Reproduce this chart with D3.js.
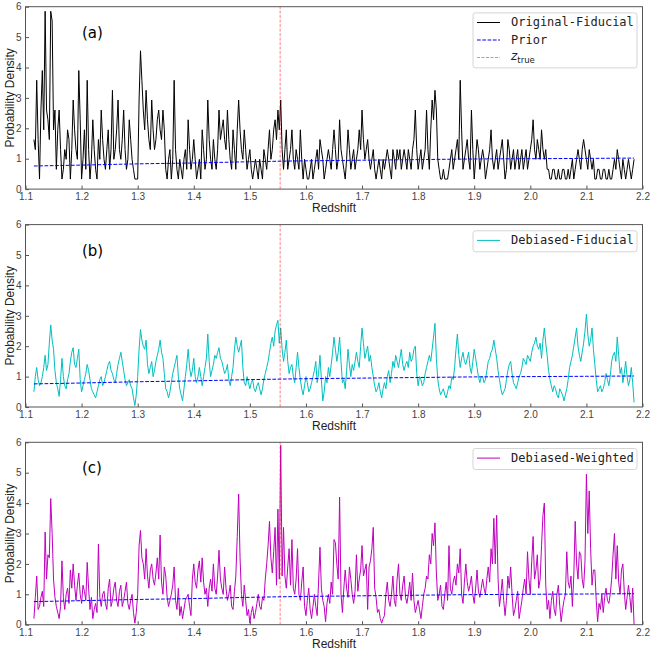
<!DOCTYPE html>
<html>
<head>
<meta charset="utf-8">
<script src="https://cdn.jsdelivr.net/npm/d3@7"></script>
<style>
body { margin: 0; background: #fff; }
</style>
</head>
<body>
<script>
// redshift sampling of the three p(z) curves
const zStart = 1.115, zStep = 0.0025;

const originalFiducial = [
  1.63,1.3, 3.58,1.63, 0.33,2.6, 3.9,1.95, 5.85,2.6, 2.28,1.63, 5.85,5.53, 1.95,2.6, 0.65,1.95, 2.6,1.3,
  0.33,0.65, 1.3,0.98, 1.95,1.63, 0.33,1.3, 2.93,1.95, 1.3,0.98, 3.9,2.28, 0.33,0.98, 1.95,0.65, 3.58,1.3,
  0.33,0.98, 2.28,1.3, 0.65,0.33, 1.63,0.98, 2.6,1.63, 0.98,0.65, 1.3,1.95, 0.65,1.3, 3.25,0.98, 1.3,1.95,
  2.93,1.3, 0.98,1.63, 2.6,1.3, 0.65,0.98, 2.28,1.63, 0.98,0.65, 0.33,0.33, 0.33,2.93, 4.55,3.58, 2.6,1.95,
  3.25,2.28, 1.63,1.3, 2.93,1.95, 1.3,1.63, 2.28,2.6, 1.95,1.63, 2.6,1.95, 0.65,0.33, 0.98,1.3, 0.33,0.98,
  3.58,1.3, 0.65,0.33, 0.98,0.65, 0.33,0.98, 1.3,0.65, 2.28,1.3, 0.65,0.98, 1.63,0.98, 0.33,0.65, 0.98,0.33,
  1.95,1.3, 0.65,0.98, 2.93,1.63, 0.98,0.65, 1.63,0.98, 0.65,1.3, 2.6,1.63, 1.95,2.28, 1.63,1.3, 2.6,1.63,
  0.98,0.65, 1.95,1.3, 0.65,1.95, 2.93,1.95, 1.3,0.98, 1.95,1.3, 0.65,0.98, 1.3,0.65, 0.33,0.65, 0.98,0.65,
  0.33,0.98, 0.65,0.33, 1.3,0.98, 0.65,1.3, 1.95,0.98, 1.3,1.95, 2.28,1.63, 2.6,1.95, 2.93,1.3, 0.65,1.3,
  1.95,0.65, 0.98,1.3, 1.95,0.98, 0.65,1.3, 0.98,0.65, 1.95,0.98, 0.33,0.98, 0.65,0.33, 0.33,0.65, 0.98,0.33,
  0.65,0.98, 1.3,0.65, 1.63,1.3, 0.98,0.33, 0.65,0.98, 1.3,0.98, 0.65,1.3, 1.95,1.3, 0.65,0.98, 2.28,1.3,
  0.98,0.65, 0.33,0.98, 1.95,1.3, 0.65,0.98, 1.3,0.65, 0.98,1.3, 1.95,1.3, 2.6,1.63, 0.98,1.3, 1.63,0.98,
  0.65,0.98, 1.3,0.65, 0.33,0.65, 0.98,0.65, 0.33,0.98, 0.65,0.98, 1.3,0.98, 0.65,0.33, 1.3,0.98, 0.65,1.3,
  0.98,1.3, 0.65,0.98, 1.3,0.98, 0.65,1.3, 0.98,0.65, 1.3,1.63, 2.6,1.3, 0.65,0.98, 1.3,0.65, 0.98,1.3,
  2.6,1.3, 0.65,1.95, 2.93,2.28, 3.25,2.6, 0.98,0.65, 0.33,0.33, 0.65,0.33, 0.33,0.33, 0.65,0.98, 1.3,0.65,
  0.98,1.3, 1.63,0.98, 3.58,1.95, 0.65,0.98, 1.3,1.63, 0.98,0.65, 2.6,1.3, 0.33,0.98, 1.63,1.3, 0.65,0.98,
  1.3,0.98, 0.33,0.65, 0.98,1.3, 1.95,0.98, 0.65,0.98, 1.3,0.65, 0.98,1.3, 1.63,0.98, 0.33,0.65, 1.63,1.3,
  0.65,0.98, 1.3,0.65, 0.98,1.3, 0.65,0.98, 1.3,0.65, 0.98,1.3, 0.65,0.98, 1.3,1.63, 2.28,1.3, 0.98,1.63,
  1.3,0.98, 1.95,1.3, 0.98,1.3, 0.65,0.65, 0.33,0.33, 0.65,0.65, 0.33,0.33, 0.65,0.33, 0.33,0.65, 0.65,0.33,
  0.33,0.65, 0.33,0.65, 0.98,0.33, 0.65,0.98, 1.3,0.98, 0.65,1.3, 1.63,1.3, 0.98,0.65, 1.3,0.98, 0.65,0.98,
  0.33,0.33, 0.65,0.65, 0.33,0.33, 0.65,0.65, 0.33,0.33, 0.65,0.33, 0.33,0.65, 0.98,0.65, 1.3,0.98, 0.65,0.33,
  0.98,0.65, 0.33,0.65, 0.98,0.65, 0.33,0.65, 0.98
];

const debiasedFiducial = [
  0.5,1.0, 1.3,0.9, 0.7,0.8, 1.0,1.3, 1.7,1.2, 1.4,2.1, 2.7,2.2, 1.9,1.2, 0.8,0.6, 0.35,0.9,
  1.6,1.0, 0.7,0.6, 0.9,1.1, 1.5,1.8, 1.95,1.4, 1.3,1.6, 1.9,0.9, 0.5,0.7, 0.9,1.1, 1.4,1.2,
  0.9,0.6, 0.5,0.4, 0.3,0.5, 0.7,0.9, 1.0,0.7, 0.8,1.0, 1.2,1.4, 1.5,1.2, 1.1,0.9, 0.8,1.1,
  1.4,1.6, 1.8,1.5, 1.2,0.9, 0.7,0.8, 0.9,0.7, 0.6,0.3, 0.05,0.4, 1.0,1.9, 2.55,2.2, 2.0,1.9,
  2.2,1.4, 1.1,1.3, 1.5,1.0, 1.2,1.5, 1.7,1.9, 2.2,1.8, 1.6,1.1, 0.6,0.5, 0.3,0.5, 0.8,1.1,
  1.3,1.5, 1.7,1.0, 0.6,0.4, 0.2,0.6, 1.0,1.4, 1.9,1.3, 1.0,1.2, 1.6,1.0, 0.8,1.0, 1.3,1.0,
  0.7,1.0, 1.3,1.6, 2.4,1.5, 1.0,1.2, 1.4,1.7, 1.6,1.8, 1.95,1.6, 1.5,1.3, 1.1,1.2, 1.4,0.9,
  0.7,1.0, 1.3,1.9, 2.3,2.0, 1.8,2.0, 2.2,1.3, 0.8,0.7, 1.0,0.8, 0.6,0.8, 0.9,0.6, 0.5,0.7,
  0.8,0.6, 0.4,0.6, 0.9,1.1, 1.3,1.5, 1.8,2.1, 2.3,2.0, 2.5,2.7, 2.85,2.1, 2.6,1.9, 1.5,1.8,
  2.2,1.5, 1.1,1.3, 1.4,1.0, 0.8,1.3, 1.8,1.3, 0.9,0.6, 0.4,0.7, 1.0,0.8, 0.5,0.6, 0.8,1.0,
  1.2,1.5, 0.8,1.1, 1.7,0.9, 0.2,0.5, 1.0,0.8, 1.3,1.0, 1.4,1.8, 2.3,1.9, 1.5,1.8, 2.3,1.5,
  0.8,0.9, 0.6,1.2, 1.9,1.4, 1.0,1.4, 1.2,1.5, 1.8,1.5, 1.3,2.0, 2.6,2.1, 1.6,1.8, 2.0,1.5,
  1.7,1.3, 1.0,0.7, 0.5,0.6, 0.8,0.5, 0.3,0.6, 0.8,0.6, 1.0,1.2, 0.8,1.1, 1.5,1.3, 1.7,1.5,
  1.3,1.6, 1.9,1.4, 1.2,1.4, 1.5,1.3, 1.8,1.5, 1.6,1.9, 2.0,1.1, 0.7,1.0, 0.9,0.7, 0.8,1.1,
  1.3,1.5, 1.7,1.5, 1.9,2.3, 2.75,1.6, 0.9,0.6, 0.4,0.5, 0.6,0.4, 0.3,0.5, 0.7,0.6, 1.0,0.9,
  1.3,1.9, 2.4,1.7, 1.3,1.6, 1.8,1.5, 1.4,1.6, 1.8,1.3, 1.1,1.5, 1.9,1.6, 1.3,1.0, 0.8,1.0,
  1.0,0.8, 0.9,1.2, 1.5,1.6, 1.8,1.9, 2.2,1.9, 1.6,1.2, 0.9,0.6, 0.4,0.5, 0.6,0.9, 1.2,1.4,
  1.5,1.1, 0.8,0.7, 0.6,0.8, 1.0,1.1, 1.3,1.6, 1.5,1.4, 1.7,1.6, 1.5,1.8, 2.0,2.1, 2.3,2.0,
  1.9,2.1, 1.6,2.2, 2.6,2.1, 1.7,1.2, 0.9,0.7, 0.5,0.7, 0.6,0.4, 0.3,0.6, 0.5,0.4, 0.2,0.4,
  0.6,0.9, 1.3,1.5, 1.7,2.0, 2.3,2.6, 2.0,1.7, 1.5,1.8, 2.1,2.5, 3.05,2.4, 2.0,2.2, 2.6,1.9,
  1.4,0.9, 0.5,0.6, 0.7,0.5, 0.6,0.8, 1.1,0.9, 0.7,1.0, 1.5,1.7, 1.8,1.5, 2.3,1.7, 1.1,1.3,
  0.8,1.1, 1.5,1.0, 0.7,0.9, 1.3,0.8, 0.15
];

const debiasedWeighted = [
  0.2,0.9, 1.6,0.5, 0.6,0.9, 1.1,0.6, 3.05,1.5, 2.3,2.2, 4.15,3.0, 1.5,0.9, 0.6,0.4, 0.2,0.6,
  2.1,0.9, 0.5,1.0, 1.2,0.7, 1.8,1.2, 2.0,1.3, 0.8,1.3, 1.7,1.0, 0.7,1.3, 1.1,0.8, 2.05,1.2,
  0.5,0.9, 0.2,0.5, 0.7,0.4, 2.65,0.9, 0.6,1.0, 1.1,0.7, 0.5,1.2, 1.5,0.6, 0.8,1.2, 1.4,0.8,
  0.6,1.1, 1.3,0.6, 0.8,1.1, 1.4,0.7, 0.5,0.8, 1.0,0.4, 0.05,0.4, 1.0,2.6, 3.1,2.2, 2.0,1.5,
  2.5,1.6, 1.2,1.8, 2.0,1.5, 1.3,1.7, 2.2,1.5, 2.95,1.4, 1.0,1.9, 1.6,0.9, 0.6,0.8, 1.0,1.3,
  1.9,0.8, 0.5,1.2, 0.3,0.6, 0.2,0.5, 0.8,0.9, 1.0,0.6, 0.3,1.5, 2.0,1.4, 1.2,1.8, 2.1,1.4,
  2.2,1.4, 1.0,1.2, 0.6,1.2, 1.5,1.1, 2.0,1.2, 1.0,1.6, 2.45,1.5, 1.2,1.0, 1.9,1.2, 0.8,1.0,
  1.3,0.6, 0.5,1.1, 1.6,2.9, 4.3,2.2, 1.0,0.6, 1.3,0.8, 0.3,0.5, 0.05,0.4, 0.6,0.2, 0.4,0.7,
  1.0,0.6, 0.5,0.9, 0.8,1.5, 2.0,2.6, 3.4,2.2, 1.7,2.4, 3.2,1.3, 3.8,1.5, 5.9,1.6, 3.2,1.6,
  1.2,1.9, 2.5,1.3, 2.8,1.2, 1.0,1.5, 2.5,1.0, 0.8,1.4, 1.9,0.6, 0.3,0.8, 1.2,0.5, 0.2,0.6,
  1.0,0.6, 0.3,1.4, 2.55,1.2, 0.8,0.6, 0.1,0.7, 1.0,0.7, 1.4,1.0, 2.8,2.7, 2.0,1.5, 4.2,1.0,
  0.4,1.2, 1.8,1.2, 0.9,1.9, 1.5,1.0, 0.7,1.1, 2.3,1.1, 1.5,1.8, 2.6,1.6, 1.8,2.0, 0.5,1.9,
  2.1,2.5, 3.2,1.2, 0.9,0.4, 0.5,0.2, 0.05,0.2, 0.3,1.0, 1.4,0.8, 0.6,1.0, 1.6,0.8, 0.6,1.5,
  2.0,1.0, 0.8,1.3, 1.6,0.9, 0.7,1.0, 1.4,0.8, 1.7,0.8, 0.4,0.6, 0.8,0.5, 0.2,0.6, 1.0,1.2,
  1.6,1.5, 2.3,2.0, 3.0,2.6, 3.35,1.7, 0.8,1.0, 1.3,0.6, 0.5,1.0, 1.4,0.8, 2.6,1.2, 1.0,1.4,
  1.6,1.3, 2.0,1.7, 2.5,1.0, 0.7,1.4, 2.0,1.4, 1.1,1.3, 1.6,1.0, 0.7,1.2, 1.8,1.1, 0.9,1.2,
  1.5,1.2, 1.0,1.5, 1.9,1.4, 2.5,2.0, 3.5,2.0, 3.6,1.5, 0.6,1.0, 1.5,0.8, 0.3,0.8, 1.6,1.2,
  1.9,1.0, 0.3,0.5, 0.8,1.1, 0.2,0.5, 0.8,1.2, 1.5,1.0, 2.4,1.5, 1.0,2.1, 2.9,1.5, 1.8,2.3,
  1.2,1.5, 2.6,3.6, 4.0,1.3, 0.5,0.8, 0.2,0.8, 1.1,0.5, 0.3,1.0, 1.3,0.6, 0.1,0.5, 0.8,1.0,
  2.4,1.4, 1.2,1.6, 0.6,1.6, 3.4,2.0, 1.5,2.4, 2.3,1.5, 1.2,2.1, 4.95,3.0, 4.4,2.5, 1.3,1.8,
  1.8,0.8, 0.1,0.7, 0.5,1.0, 0.4,0.9, 1.2,0.8, 0.7,1.0, 1.5,2.3, 3.0,1.5, 2.6,1.4, 1.0,1.8,
  2.0,1.1, 0.5,0.9, 1.3,0.9, 0.4,1.2, 0.0
];

const priorZ = [1.115, 1.2, 1.3, 1.4, 1.5, 1.6, 1.7, 1.8, 1.9, 2.0, 2.1, 2.185];
const priorDensity = [0.76, 0.79, 0.83, 0.86, 0.90, 0.93, 0.95, 0.97, 0.99, 1.0, 1.01, 1.02];

const zTrue = 1.554;

const xTicks = [1.1, 1.2, 1.3, 1.4, 1.5, 1.6, 1.7, 1.8, 1.9, 2.0, 2.1, 2.2];
const yTicks = [0, 1, 2, 3, 4, 5, 6];

const zGrid = originalFiducial.map((d, i) => zStart + i * zStep);

const panels = [
  {tag: "(a)", values: originalFiducial, color: "#000000", name: "Original-Fiducial", top: 6.7, full: true},
  {tag: "(b)", values: debiasedFiducial, color: "#00bfbf", name: "Debiased-Fiducial", top: 224.6, full: false},
  {tag: "(c)", values: debiasedWeighted, color: "#bf00bf", name: "Debiased-Weighted", top: 442.3, full: false}
];

const W = 654, H = 654;
const left = 25.5, right = 642.5, panelH = 182.4;

const svg = d3.select("body")
  .append("svg")
  .attr("width", W)
  .attr("height", H);

const x = d3.scaleLinear()
  .domain([1.1, 2.2])
  .range([left, right]);

const y = d3.scaleLinear()
  .domain([0, 6])
  .range([panelH, 0]);

const line = d3.line()
  .x((d, i) => x(zGrid[i]))
  .y(d => y(d));

const priorLine = d3.line()
  .x((d, i) => x(priorZ[i]))
  .y(d => y(d))
  .curve(d3.curveMonotoneX);

panels.forEach(p => {
  const g = svg.append("g")
    .attr("transform", `translate(0,${p.top})`);

  // axes, ticks pointing inwards
  const xAxis = g.append("g")
    .attr("transform", `translate(0,${panelH})`)
    .call(d3.axisBottom(x).tickValues(xTicks).tickFormat(d3.format(".1f"))
      .tickSizeInner(-3.5).tickSizeOuter(0).tickPadding(4));

  const yAxis = g.append("g")
    .attr("transform", `translate(${left},0)`)
    .call(d3.axisLeft(y).tickValues(yTicks).tickFormat(d3.format("d"))
      .tickSizeInner(-3.5).tickSizeOuter(0).tickPadding(4));

  [xAxis, yAxis].forEach(a => {
    a.select(".domain").remove();
    a.selectAll(".tick line").attr("stroke", "#555");
    a.selectAll(".tick text")
      .attr("fill", "#444")
      .style("font-family", "Liberation Sans, Arial, sans-serif")
      .style("font-size", "10px");
  });

  // curve
  g.append("path")
    .datum(p.values)
    .attr("d", line)
    .attr("fill", "none")
    .attr("stroke", p.color)
    .attr("stroke-width", 1)
    .attr("stroke-linejoin", "round");

  // prior
  g.append("path")
    .datum(priorDensity)
    .attr("d", priorLine)
    .attr("fill", "none")
    .attr("stroke", "#0000ff")
    .attr("stroke-width", 1)
    .attr("stroke-dasharray", "3.7,1.6");

  // z_true
  g.append("line")
    .attr("x1", x(zTrue))
    .attr("x2", x(zTrue))
    .attr("y1", y(0))
    .attr("y2", y(6))
    .attr("stroke", "#ff0000")
    .attr("stroke-opacity", 0.5)
    .attr("stroke-width", 1)
    .attr("stroke-dasharray", "3,1.5");

  // frame
  g.append("rect")
    .attr("x", left)
    .attr("y", 0)
    .attr("width", right - left)
    .attr("height", panelH)
    .attr("fill", "none")
    .attr("stroke", "#555")
    .attr("stroke-width", 1);

  // panel tag
  g.append("text")
    .attr("x", 82)
    .attr("y", 31)
    .style("font-family", "DejaVu Sans, sans-serif")
    .style("font-size", "15px")
    .attr("fill", "#000")
    .text(p.tag);

  // X Axis Label
  g.append("text")
    .attr("text-anchor", "middle")
    .attr("x", (left + right) / 2)
    .attr("y", panelH + 23)
    .style("font-family", "Liberation Sans, Arial, sans-serif")
    .style("font-size", "12px")
    .attr("fill", "#222")
    .text("Redshift");

  // Y Axis Label
  g.append("text")
    .attr("text-anchor", "middle")
    .attr("transform", "rotate(-90)")
    .attr("x", -panelH / 2)
    .attr("y", 14)
    .style("font-family", "Liberation Sans, Arial, sans-serif")
    .style("font-size", "12px")
    .attr("fill", "#222")
    .text("Probability Density");

  // legend
  const entries = [{type: "data", label: p.name}];
  if (p.full) {
    entries.push({type: "prior", label: "Prior"});
    entries.push({type: "true", label: "z"});
  }
  const rowH = 17.5;
  const lg = g.append("g").attr("transform", "translate(473,6.2)");
  lg.append("rect")
    .attr("width", 164)
    .attr("height", 21 + rowH * (entries.length - 1) - (p.full ? 1 : 0))
    .attr("rx", 2.5)
    .attr("fill", "#fff")
    .attr("fill-opacity", 0.8)
    .attr("stroke", "#d5d5d5")
    .attr("stroke-width", 1);

  entries.forEach((e, k) => {
    const cy = 9.6 + k * rowH;
    const s = lg.append("line")
      .attr("x1", 4).attr("x2", 27)
      .attr("y1", cy).attr("y2", cy)
      .attr("stroke-width", 1);
    if (e.type === "data") s.attr("stroke", p.color);
    if (e.type === "prior") s.attr("stroke", "#0000ff").attr("stroke-dasharray", "3.7,1.6");
    if (e.type === "true") s.attr("stroke", "#ff0000").attr("stroke-opacity", 0.5).attr("stroke-dasharray", "3,1.5");

    if (e.type === "true") {
      const t = lg.append("text")
        .attr("x", 38)
        .attr("y", cy + 3)
        .style("font-family", "DejaVu Sans, sans-serif")
        .style("font-size", "12px")
        .attr("fill", "#222");
      t.append("tspan").style("font-style", "italic").text("z");
      t.append("tspan").attr("dy", 3).style("font-size", "8.5px").text("true");
    } else {
      lg.append("text")
        .attr("x", 38)
        .attr("y", cy + 4)
        .style("font-family", "DejaVu Sans Mono, monospace")
        .style("font-size", "12px")
        .attr("fill", "#222")
        .text(e.label);
    }
  });
});
</script>
</body>
</html>
